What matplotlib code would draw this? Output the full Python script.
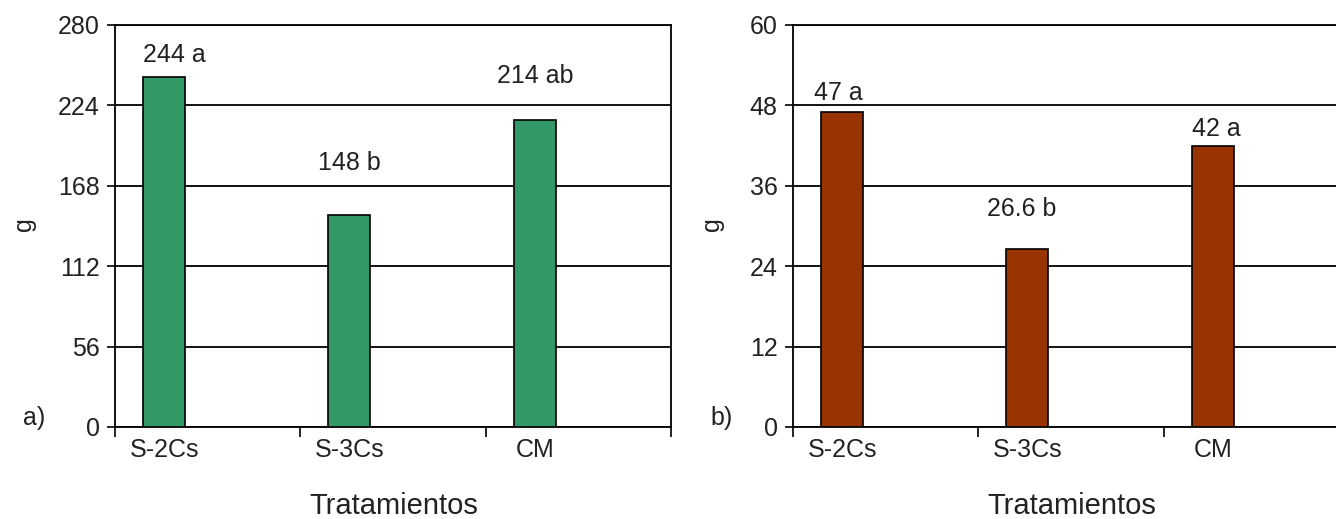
import matplotlib.pyplot as plt
import numpy as np

plt.rcParams['font.family'] = ['Liberation Sans', 'DejaVu Sans']

# treatments and results
tratamientos = ['S-2Cs', 'S-3Cs', 'CM']

peso_a = [244, 148, 214]
letras_a = ['a', 'b', 'ab']
ticks_a = [0, 56, 112, 168, 224, 280]

peso_b = [47, 26.6, 42]
letras_b = ['a', 'b', 'a']
ticks_b = [0, 12, 24, 36, 48, 60]

# where each annotation sits (height, sideways nudge in category units)
alto_etiq_a = [259, 184, 244.5]
desp_etiq_a = [0.055, 0.0, 0.0]
alto_etiq_b = [49.9, 32.5, 44.5]
desp_etiq_b = [-0.02, -0.03, 0.02]

verde = '#339966'
cafe = '#993300'
texto = '#222222'

fig = plt.figure(figsize=(13.36, 5.19), dpi=100)
W, H = 1336.0, 519.0

def panel(x0, vals, letras, alto, desp, yticks, color, letra_panel, xg):
    ax = fig.add_axes([x0 / W, 1 - 427 / H, 556 / W, 402 / H])
    x = np.arange(len(tratamientos))
    xb = x - 0.235
    ax.bar(xb, vals, width=0.227, color=color, edgecolor='black', linewidth=1.2, zorder=3)
    for xi, v, l, y, d in zip(xb, vals, letras, alto, desp):
        ax.text(xi + d, y, f'{v:g} {l}', ha='center', va='center', fontsize=18, color=texto)
    ax.set_xlim(-0.5, 2.5)
    ax.set_ylim(yticks[0], yticks[-1])
    ax.set_yticks(yticks)
    ax.yaxis.grid(True, color='black', linewidth=1.3, zorder=1)
    ax.set_axisbelow(True)
    # tick marks on the category borders, names under the bars
    ax.set_xticks([-0.5, 0.5, 1.5, 2.5])
    ax.set_xticklabels([])
    ax.set_xticks(xb, minor=True)
    ax.set_xticklabels(tratamientos, minor=True)
    ax.tick_params(axis='x', which='major', length=7, width=1.2, direction='out')
    ax.tick_params(axis='x', which='minor', length=0, pad=8, labelsize=18, labelcolor=texto)
    ax.tick_params(axis='y', length=6, width=1.2, direction='out', pad=5,
                   labelsize=18, labelcolor=texto)
    for s in ax.spines.values():
        s.set_linewidth(1.3)
    fig.text((xg + 10) / W, 1 - 418 / H, letra_panel, ha='center', va='center',
             fontsize=18, color=texto)
    fig.text(xg / W, 1 - 224 / H, 'g', rotation=90, ha='center', va='center',
             fontsize=18, color=texto)
    fig.text((x0 + 279) / W, 1 - 506 / H, 'Tratamientos', ha='center', va='center',
             fontsize=21, color=texto)
    return ax

panel(115, peso_a, letras_a, alto_etiq_a, desp_etiq_a, ticks_a, verde, 'a)', 24)
panel(793, peso_b, letras_b, alto_etiq_b, desp_etiq_b, ticks_b, cafe, 'b)', 712)

plt.savefig('out.png', dpi=100, facecolor='white')
